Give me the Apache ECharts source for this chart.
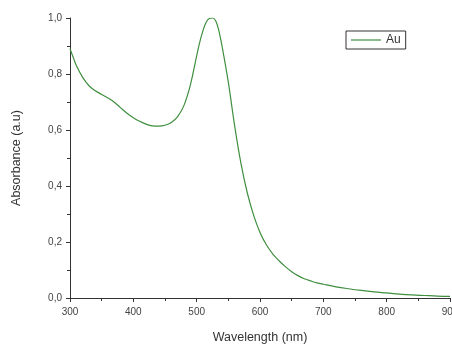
<!DOCTYPE html>
<html>
<head>
<meta charset="utf-8">
<script src="https://cdn.jsdelivr.net/npm/echarts@6/dist/echarts.min.js"></script>
<style>
html,body{margin:0;padding:0;background:#fff;}
#chart{width:452px;height:345px;}
</style>
</head>
<body>
<div id="chart"></div>
<script>
const wavelengths = [300,305,310,320,330,340,350,360,370,380,390,400,410,420,430,440,450,460,470,480,490,500,505,510,515,520,525,530,535,540,550,560,570,580,590,600,610,620,630,640,650,660,670,680,690,700,720,740,760,780,800,820,840,860,880,900];
const absorbance = [0.89,0.86,0.83,0.788,0.758,0.74,0.727,0.714,0.699,0.679,0.66,0.644,0.631,0.621,0.615,0.614,0.617,0.627,0.648,0.688,0.76,0.865,0.915,0.955,0.985,0.998,1.0,0.99,0.955,0.9,0.77,0.615,0.48,0.375,0.295,0.234,0.19,0.158,0.133,0.112,0.094,0.08,0.069,0.061,0.054,0.049,0.04,0.033,0.027,0.022,0.018,0.014,0.011,0.009,0.007,0.006];
const seriesName = 'Au';
const xTitle = 'Wavelength (nm)';
const yTitle = 'Absorbance (a.u)';

const chart = echarts.init(document.getElementById('chart'), null, {renderer:'canvas'});
const font = 'Liberation Sans, Arial, sans-serif';
chart.setOption({
  animation:false,
  backgroundColor:'#fff',
  grid:{left:70,right:2,top:18,bottom:47,containLabel:false,outerBoundsMode:'none'},
  legend:{
    data:[{name:seriesName,icon:'rect'}],
    left:346, top:31,
    orient:'horizontal',
    borderColor:'#333', borderWidth:1,
    padding:[3,5,3,5],
    itemWidth:30, itemHeight:1.2, itemGap:4,
    textStyle:{fontFamily:font,fontSize:12,color:'#333'}
  },
  xAxis:{
    type:'value', min:300, max:900, interval:100,
    name:xTitle, nameLocation:'middle', nameGap:33,
    nameTextStyle:{fontFamily:font,fontSize:12.5,color:'#333'},
    axisLine:{lineStyle:{color:'#333',width:1}},
    axisTick:{show:true,length:4,lineStyle:{color:'#333'}},
    minorTick:{show:true,splitNumber:2,length:3,lineStyle:{color:'#333'}},
    axisLabel:{fontFamily:font,fontSize:10,color:'#444',margin:9},
    splitLine:{show:false}
  },
  yAxis:{
    type:'value', min:0, max:1, interval:0.2,
    name:yTitle, nameLocation:'middle', nameGap:47,
    nameTextStyle:{fontFamily:font,fontSize:12.5,color:'#333'},
    axisLine:{show:true,lineStyle:{color:'#333',width:1}},
    axisTick:{show:true,length:4,lineStyle:{color:'#333'}},
    minorTick:{show:true,splitNumber:2,length:3,lineStyle:{color:'#333'}},
    axisLabel:{fontFamily:font,fontSize:10,color:'#444',margin:8,
      formatter:v=>v.toFixed(1).replace('.',',')},
    splitLine:{show:false}
  },
  series:[{
    name:seriesName, type:'line', smooth:0.4, symbol:'none',
    data:wavelengths.map((w,i)=>[w,absorbance[i]]),
    lineStyle:{color:'#3f8f3f',width:1.2},
    itemStyle:{color:'#3f8f3f'}
  }]
});
</script>
</body>
</html>
